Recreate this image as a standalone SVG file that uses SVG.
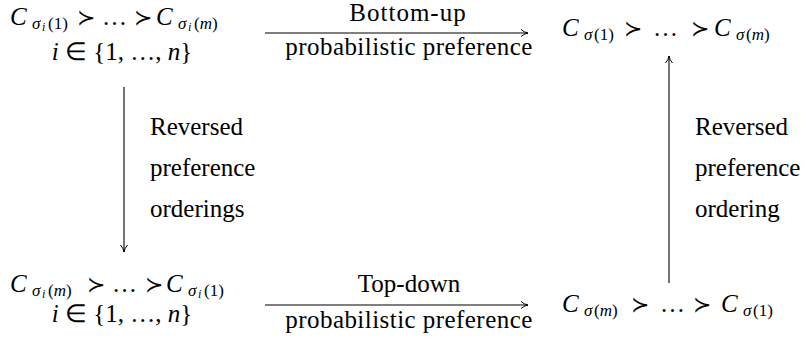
<svg xmlns="http://www.w3.org/2000/svg" width="804" height="347" viewBox="0 0 804 347" font-family="Liberation Serif, serif">
<defs>
<marker id="arr" viewBox="0 0 10 10" refX="9" refY="5" markerWidth="10" markerHeight="10" markerUnits="userSpaceOnUse" orient="auto">
<path d="M2,1.5 Q5,4.3 9,5 Q5,5.7 2,8.5" fill="none" stroke="#000" stroke-width="1"/>
</marker>
</defs>

<g id="connectors" stroke="#000" stroke-width="1.1" fill="none">
<line x1="265" y1="33" x2="528" y2="33" marker-end="url(#arr)"/>
<line x1="265" y1="305" x2="528" y2="305" marker-end="url(#arr)"/>
<line x1="124" y1="87" x2="124" y2="252" marker-end="url(#arr)"/>
<line x1="669" y1="283" x2="669" y2="56" marker-end="url(#arr)"/>
</g>

<g id="edge-labels" font-family="Liberation Serif, serif" font-size="25">
<text style="font-family:'Liberation Serif',serif" x="408" y="21" text-anchor="middle" letter-spacing="1">Bottom-up</text>
<text style="font-family:'Liberation Serif',serif" x="409" y="55" text-anchor="middle" letter-spacing="0.45">probabilistic preference</text>
<text style="font-family:'Liberation Serif',serif" x="409" y="292" text-anchor="middle">Top-down</text>
<text style="font-family:'Liberation Serif',serif" x="409" y="328" text-anchor="middle" letter-spacing="0.45">probabilistic preference</text>
<text style="font-family:'Liberation Serif',serif" x="150" y="135">Reversed</text>
<text style="font-family:'Liberation Serif',serif" x="150" y="176">preference</text>
<text style="font-family:'Liberation Serif',serif" x="150" y="217">orderings</text>
<text style="font-family:'Liberation Serif',serif" x="695" y="135">Reversed</text>
<text style="font-family:'Liberation Serif',serif" x="695" y="176">preference</text>
<text style="font-family:'Liberation Serif',serif" x="695" y="217">ordering</text>
</g>

<g id="node-top-left" font-family="Liberation Serif, serif" font-size="25">
<text style="font-family:'Liberation Serif',serif"><tspan font-style="italic" x="10" y="25">C</tspan><tspan font-size="17" font-style="italic" x="32" y="29">σ</tspan><tspan font-size="12" font-style="italic" x="42" y="31">i</tspan><tspan font-size="17" x="48" y="29">(1)</tspan><tspan font-size="22" x="77" y="25">≻</tspan><tspan x="102" y="25">…</tspan><tspan font-size="22" x="134" y="25">≻</tspan><tspan font-style="italic" x="156" y="25">C</tspan><tspan font-size="17" font-style="italic" x="178" y="29">σ</tspan><tspan font-size="12" font-style="italic" x="188" y="31">i</tspan><tspan font-size="17" x="194" y="29">(<tspan font-style="italic">m</tspan>)</tspan></text>
<text style="font-family:'Liberation Serif',serif" x="122" y="60" text-anchor="middle"><tspan font-style="italic">i</tspan> ∈ {1, …, <tspan font-style="italic">n</tspan>}</text>
</g>

<g id="node-top-right" font-family="Liberation Serif, serif" font-size="25">
<text style="font-family:'Liberation Serif',serif"><tspan font-style="italic" x="562" y="36">C</tspan><tspan font-size="17" font-style="italic" x="584" y="40">σ</tspan><tspan font-size="17" x="594" y="40">(1)</tspan><tspan font-size="22" x="624" y="36">≻</tspan><tspan x="653" y="36">…</tspan><tspan font-size="22" x="691" y="36">≻</tspan><tspan font-style="italic" x="714" y="36">C</tspan><tspan font-size="17" font-style="italic" x="736" y="40">σ</tspan><tspan font-size="17" x="746" y="40">(<tspan font-style="italic">m</tspan>)</tspan></text>
</g>

<g id="node-bottom-left" font-family="Liberation Serif, serif" font-size="25">
<text style="font-family:'Liberation Serif',serif"><tspan font-style="italic" x="10" y="292">C</tspan><tspan font-size="17" font-style="italic" x="32" y="296">σ</tspan><tspan font-size="12" font-style="italic" x="42" y="298">i</tspan><tspan font-size="17" x="48" y="296">(<tspan font-style="italic">m</tspan>)</tspan><tspan font-size="22" x="87" y="292">≻</tspan><tspan x="112" y="292">…</tspan><tspan font-size="22" x="145" y="292">≻</tspan><tspan font-style="italic" x="166" y="292">C</tspan><tspan font-size="17" font-style="italic" x="188" y="296">σ</tspan><tspan font-size="12" font-style="italic" x="198" y="298">i</tspan><tspan font-size="17" x="204" y="296">(1)</tspan></text>
<text style="font-family:'Liberation Serif',serif" x="122" y="322" text-anchor="middle"><tspan font-style="italic">i</tspan> ∈ {1, …, <tspan font-style="italic">n</tspan>}</text>
</g>

<g id="node-bottom-right" font-family="Liberation Serif, serif" font-size="25">
<text style="font-family:'Liberation Serif',serif"><tspan font-style="italic" x="562" y="312">C</tspan><tspan font-size="17" font-style="italic" x="584" y="316">σ</tspan><tspan font-size="17" x="594" y="316">(<tspan font-style="italic">m</tspan>)</tspan><tspan font-size="22" x="631" y="312">≻</tspan><tspan x="660" y="312">…</tspan><tspan font-size="22" x="693" y="312">≻</tspan><tspan font-style="italic" x="721" y="312">C</tspan><tspan font-size="17" font-style="italic" x="743" y="316">σ</tspan><tspan font-size="17" x="753" y="316">(1)</tspan></text>
</g>
</svg>
